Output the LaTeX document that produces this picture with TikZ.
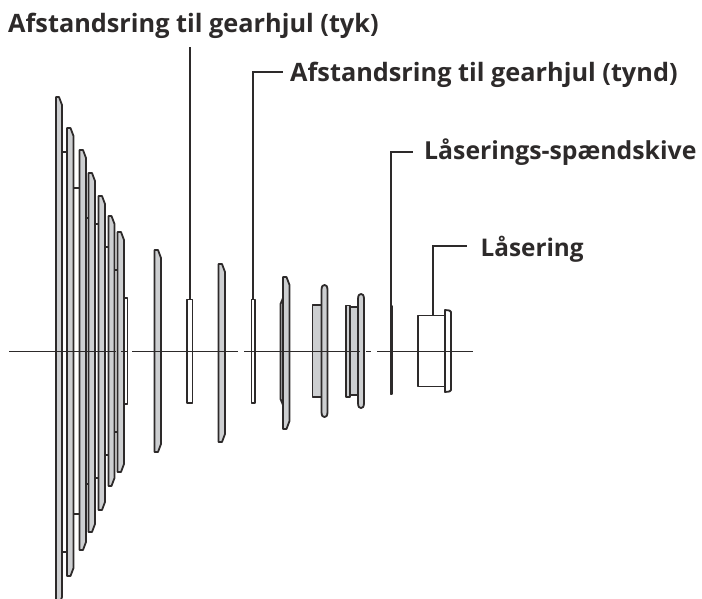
\documentclass[tikz,border=0pt]{standalone}
\usepackage{fontspec}
\setmainfont{Open Sans}
\definecolor{gfill}{RGB}{205,207,209}
\definecolor{lk}{RGB}{45,42,42}
\tikzset{
  x=1pt,y=-1pt,
  part/.style={draw=lk,line width=1.8pt,fill=gfill,line join=round},
  ring/.style={draw=lk,line width=1.8pt,fill=white,line join=round},
  lead/.style={draw=lk,line width=1.9pt},
  axisl/.style={draw=lk,line width=1pt},
  lab/.style={font=\bfseries\fontsize{25.3}{29}\selectfont,text=lk,inner sep=0pt,anchor=base west},
  labs/.style={lab,font=\bfseries\fontsize{24.3}{29}\selectfont}
}
\newcommand{\gearpart}[4]{\draw[part] (#1,#3) -- ({#2-3},#3) -- (#2,{#3+8}) -- (#2,{#4-8}) -- ({#2-3},#4) -- (#1,#4) -- cycle;}
\newcommand{\roundpart}[4]{\draw[part] (#1,{#3+5}) .. controls (#1,{#3+1}) and ({#1+1.5},#3) .. ({(#1+#2)/2},#3) .. controls ({#2-1.5},#3) and (#2,{#3+1}) .. (#2,{#3+5}) -- (#2,{#4-5}) .. controls (#2,{#4-1}) and ({#2-1.5},#4) .. ({(#1+#2)/2},#4) .. controls ({#1+1.5},#4) and (#1,{#4-1}) .. (#1,{#4-5}) -- cycle;}
\begin{document}
\begin{tikzpicture}
\useasboundingbox (0,0) rectangle (702,598);
\draw[ring] (120,298) rectangle (127.5,404);
\begin{scope}
\clip (0,0) rectangle (702,598);
\gearpart{56}{62}{97}{605}
\end{scope}
\gearpart{67}{73.5}{128}{576}
\gearpart{79.5}{86}{150}{550}
\gearpart{88.5}{95}{173}{532}
\gearpart{98.5}{105}{196}{510}
\gearpart{108.5}{114.5}{216}{486}
\gearpart{117.5}{124}{232}{472}
\foreach \xa/\xb/\ya/\yb in {62/67/152/552,73.5/79.5/188/514,86/88.5/218/484,95/98.5/224/478,105/108.5/247/455,114.5/117.5/270/432}{
  \draw[lead] (\xa,\ya) -- (\xb,\ya);
  \draw[lead] (\xa,\yb) -- (\xb,\yb);
}
\gearpart{154.5}{161}{250}{452}
\draw[ring] (187,299.5) rectangle (192.5,403);
\gearpart{218.5}{225}{264}{442}
\draw[ring] (251.5,299.5) rectangle (255,403);
\draw[part] (283,298) -- (280.5,304) -- (280.5,399) -- (283,405) -- cycle;
\gearpart{283}{289.5}{277}{429}
\draw[part] (312.5,305) rectangle (321.5,397);
\roundpart{321.5}{327.5}{285}{417}
\draw[part] (346,305.5) rectangle (350,397);
\draw[part] (350,307) rectangle (358,395);
\roundpart{358}{364}{294}{408}
\draw[part] (390.5,306) rectangle (392,394);
\draw[ring] (418,315.5) rectangle (445,386.5);
\draw[ring] (445,310) -- (449.5,310.5) -- (451,312) -- (451,390) -- (449.5,391.5) -- (445,392) -- cycle;
\coordinate (a0) at (9,351); \coordinate (a1) at (116,351);
\coordinate (a2) at (121,351); \coordinate (a3) at (128,351);
\coordinate (a4) at (132,351); \coordinate (a5) at (238,351);
\coordinate (a6) at (244,351); \coordinate (a7) at (360,351);
\coordinate (a8) at (366,351); \coordinate (a9) at (371,351);
\coordinate (a10) at (377,351); \coordinate (a11) at (473,351);
\draw[axisl] (a0)--(a1) (a2)--(a3) (a4)--(a5) (a6)--(a7) (a8)--(a9) (a10)--(a11);
\node[lab] (l1) at (8,32) {Afstandsring til gearhjul (tyk)};
\node[lab] (l2) at (290,81) {Afstandsring til gearhjul (tynd)};
\node[lab,font=\bfseries\fontsize{24.8}{29}\selectfont] (l3) at (424,159) {Låserings-spændskive};
\node[labs] (l4) at (480.5,256) {Låsering};
\coordinate (t1) at (190,47);
\coordinate (c2) at (253,72);
\coordinate (c3) at (391,152);
\coordinate (c4) at (433,246);
\draw[lead] (t1) -- (190,299.5);
\draw[lead] (253,299.5) -- (c2) -- (283,72);
\draw[lead] (391,306) -- (c3) -- (413,152);
\draw[lead] (433,315.5) -- (c4) -- (467,246);
\end{tikzpicture}
\end{document}
